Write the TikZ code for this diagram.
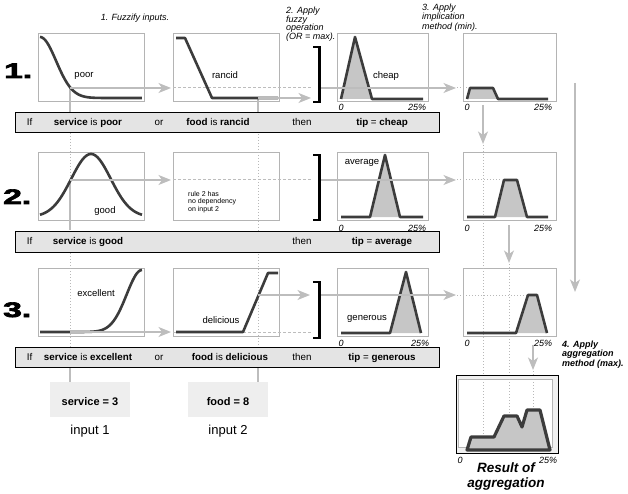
\documentclass[tikz,border=0pt]{standalone}
\usepackage{fontspec}
\setmainfont{Liberation Sans}
\newfontfamily\heavyfont[FakeBold=3]{Liberation Sans}
\usetikzlibrary{arrows.meta}
\definecolor{curvegray}{HTML}{3C3C3C}
\definecolor{fillgray}{HTML}{C6C6C6}
\definecolor{framegray}{HTML}{B4B4B4}
\definecolor{arrowgray}{HTML}{BDBDBD}
\definecolor{dotgray}{HTML}{B8B8B8}
\definecolor{bargray}{HTML}{E4E4E4}
\definecolor{boxgray}{HTML}{EEEEEE}
\begin{document}
\begin{tikzpicture}[x=1pt,y=-1pt,
  frm/.style={draw=framegray,line width=0.6pt,inner sep=0,anchor=north west},
  crv/.style={draw=curvegray,line width=2.6pt,line join=round},
  shade/.style={fill=fillgray},
  garr/.style={draw=arrowgray,line width=1.3pt,-{Stealth[length=12.5pt,width=10pt,inset=3.5pt]}},
  gseg/.style={draw=arrowgray,line width=1.1pt},
  dseg/.style={draw=arrowgray,line width=1pt,dash pattern=on 2.5pt off 2.5pt},
  vdots/.style={draw=dotgray,line width=1pt,dash pattern=on 1pt off 2pt},
  rulebar/.style={fill=bargray,draw=black,line width=0.8pt,inner sep=0,anchor=north west,minimum width=424pt,minimum height=20pt},
  brkt/.style={draw=black,line width=2.8pt,line join=miter},
  bartxt/.style={font=\fontsize{9.8}{11}\selectfont,inner sep=0,anchor=base},
  lbltxt/.style={font=\fontsize{9.5}{11}\selectfont,inner sep=0,anchor=base},
  axtxt/.style={font=\fontsize{9}{10}\selectfont\itshape,inner sep=0,anchor=base},
  numtxt/.style={font=\fontsize{21}{21}\heavyfont\bfseries,inner sep=0,anchor=base west},
  steptxt/.style={font=\fontsize{9}{9.2}\selectfont\itshape,inner sep=0,anchor=north west,align=left},
  valbox/.style={fill=boxgray,inner sep=0,anchor=north west,minimum width=80pt,minimum height=35pt}
]
\useasboundingbox (0,0) rectangle (628,494);

% ---------- frames ----------
\foreach \r/\y in {1/33,2/152,3/268}{
  \node[frm,minimum width=106pt,minimum height=68pt] (a\r) at (38,\y) {};
  \node[frm,minimum width=106pt,minimum height=68pt] (b\r) at (173,\y) {};
  \node[frm,minimum width=91pt,minimum height=68pt] (c\r) at (337,\y) {};
  \node[frm,minimum width=93pt,minimum height=68pt] (d\r) at (463,\y) {};
}

% ---------- input value lines ----------
\coordinate (sv1) at (70,88);
\coordinate (sv2) at (70,180);
\coordinate (sv3) at (70,332);
\coordinate (fd1) at (258,98);
\coordinate (fd3) at (258,295);
\coordinate (svb) at (70,382);
\coordinate (fdb) at (258,382);
\draw[vdots] (sv1) -- (svb);
\draw[vdots] (fd1) -- (fdb);
\draw[gseg] (sv1) -- (70,112);
\draw[gseg] (sv2) -- (70,230);
\draw[gseg] (70,367) -- (svb);
\draw[gseg] (fd1) -- (258,112);
\draw[gseg] (258,367) -- (fdb);

% ---------- right-hand dotted lines ----------
\draw[vdots] (483,145) -- (483,437);
\draw[vdots] (509,264) -- (509,416);
\draw[vdots] (533,371) -- (533,410);
\draw[vdots] (457,88) -- (469,88);
\draw[vdots] (457,180) -- (500,180);
\draw[vdots] (457,295) -- (528,295);

% ---------- dashed continuation lines ----------
\draw[dseg] (173,88) -- (312,88);
\draw[dseg] (173,180) -- (312,180);
\draw[dseg] (173,332) -- (312,332);

% ---------- membership curves (inputs) ----------
\draw[crv] plot[domain=0:10,samples=80,smooth] ({40+10.2*\x},{98-61*exp(-\x*\x/5)});
\draw[crv] (176,38) -- (185,38) -- (212,98) -- (278,98);
\draw[crv] plot[domain=0:10,samples=80,smooth] ({40+10.2*\x},{217-63*exp(-(\x-5)*(\x-5)/7.5)});
\draw[crv] plot[domain=0:10,samples=80,smooth] ({40+10.2*\x},{332-62*exp(-(\x-10)*(\x-10)/4.5)});
\draw[crv] (176,332) -- (243,332) -- (268,273) -- (278,273);

% ---------- output curves ----------
\fill[shade] (341,99) -- (355,37) -- (372,99) -- cycle;
\draw[crv] (341,99) -- (355,37) -- (372,99) -- (423,99);
\fill[shade] (370,217) -- (385,155) -- (400,217) -- cycle;
\draw[crv] (341,217) -- (370,217) -- (385,155) -- (400,217) -- (423,217);
\fill[shade] (390,333) -- (406,272) -- (421,333) -- cycle;
\draw[crv] (341,333) -- (390,333) -- (406,272) -- (421,333);

% ---------- implication curves ----------
\fill[shade] (467,99) -- (470,88) -- (493,88) -- (498,99) -- cycle;
\draw[crv] (467,99) -- (470,88) -- (493,88) -- (498,99) -- (548,99);
\fill[shade] (495,217) -- (504,180) -- (517,180) -- (527,217) -- cycle;
\draw[crv] (467,217) -- (495,217) -- (504,180) -- (517,180) -- (527,217) -- (548,217);
\fill[shade] (516,333) -- (528,295) -- (537,295) -- (547,333) -- cycle;
\draw[crv] (467,333) -- (516,333) -- (528,295) -- (537,295) -- (547,333);

% ---------- arrows ----------
\coordinate (a1e) at (171,88);
\coordinate (a2e) at (171,180);
\coordinate (a3e) at (171,332);
\draw[garr] (sv1) -- (a1e);
\draw[garr] (sv2) -- (a2e);
\draw[garr] (sv3) -- (a3e);
\coordinate (f1e) at (311,98);
\coordinate (f3e) at (310,295);
\draw[garr] (fd1) -- (f1e);
\draw[garr] (fd3) -- (f3e);
\coordinate (o1s) at (320,88);  \coordinate (o1e) at (456,88);
\coordinate (o2s) at (320,180); \coordinate (o2e) at (456,180);
\coordinate (o3s) at (320,295); \coordinate (o3e) at (456,295);
\draw[garr] (o1s) -- (o1e);
\draw[garr] (o2s) -- (o2e);
\draw[garr] (o3s) -- (o3e);
\coordinate (v1s) at (483,105); \coordinate (v1e) at (483,144);
\coordinate (v2s) at (509,225); \coordinate (v2e) at (509,263);
\coordinate (v3s) at (533,345); \coordinate (v3e) at (533,370);
\coordinate (lgs) at (575,83);  \coordinate (lge) at (575,292);
\draw[garr] (v1s) -- (v1e);
\draw[garr] (v2s) -- (v2e);
\draw[garr] (v3s) -- (v3e);
\draw[garr] (lgs) -- (lge);

% ---------- brackets ----------
\draw[brkt] (313,47) -- (319.5,47) -- (319.5,102) -- (313,102);
\draw[brkt] (313,155) -- (319.5,155) -- (319.5,220) -- (313,220);
\draw[brkt] (313,282) -- (319.5,282) -- (319.5,338) -- (313,338);

% ---------- rule bars ----------
\node[rulebar] (bar1) at (15,112) {};
\node[rulebar,minimum height=21pt] (bar2) at (15,230.5) {};
\node[rulebar] (bar3) at (15,347) {};

\node[bartxt] (if1) at (29.5,125.6) {If};
\node[bartxt] (p1) at (88,125.6) {\textbf{service} is \textbf{poor}};
\node[bartxt] (or1) at (159,125.6) {or};
\node[bartxt] (q1) at (218,125.6) {\textbf{food} is \textbf{rancid}};
\node[bartxt] (th1) at (302,125.6) {then};
\node[bartxt] (t1) at (382,125.6) {\textbf{tip} = \textbf{cheap}};

\node[bartxt] (if2) at (29.5,244.6) {If};
\node[bartxt] (p2) at (88,244.6) {\textbf{service} is \textbf{good}};
\node[bartxt] (th2) at (302,244.6) {then};
\node[bartxt] (t2) at (382,244.6) {\textbf{tip} = \textbf{average}};

\node[bartxt] (if3) at (29.5,360.6) {If};
\node[bartxt] (p3) at (88,360.6) {\textbf{service} is \textbf{excellent}};
\node[bartxt] (or3) at (159,360.6) {or};
\node[bartxt] (q3) at (230,360.6) {\textbf{food} is \textbf{delicious}};
\node[bartxt] (th3) at (302,360.6) {then};
\node[bartxt] (t3) at (382,360.6) {\textbf{tip} = \textbf{generous}};

% ---------- big rule numbers ----------
\node[numtxt] (n1) at (4,78) {\scalebox{1.6}[1]{1.}};
\node[numtxt] (n2) at (3,204) {\scalebox{1.6}[1]{2.}};
\node[numtxt] (n3) at (3,317) {\scalebox{1.6}[1]{3.}};

% ---------- labels in plots ----------
\node[lbltxt] (lpoor) at (84,78) {poor};
\node[lbltxt] (lrancid) at (225,79) {rancid};
\node[lbltxt] (lcheap) at (386,79) {cheap};
\node[lbltxt] (lgood) at (105,214) {good};
\node[lbltxt] (laverage) at (362,165) {average};
\node[lbltxt] (lexcellent) at (96,296) {excellent};
\node[lbltxt] (ldelicious) at (221,323) {delicious};
\node[lbltxt] (lgenerous) at (367,320) {generous};

\node[font=\fontsize{7}{7.5}\selectfont,inner sep=0,anchor=north west,align=left] (note) at (188,191) {rule 2 has\\no dependency\\on input 2};

% ---------- axis labels ----------
\foreach \r/\y/\m in {1/110.3/417,2/231.3/417,3/346.3/420}{
  \node[axtxt] (z\r) at (341,\y) {0};
  \node[axtxt] (zi\r) at (467,\y) {0};
  \node[axtxt] (m\r) at (\m,\y) {25\%};
  \node[axtxt] (mi\r) at (543,\y) {25\%};
}
\node[axtxt] (za) at (460,463.3) {0};
\node[axtxt] (ma) at (548,463.3) {25\%};

% ---------- aggregate ----------
\node[draw=black,line width=1.2pt,fill=gray!12,inner sep=0,anchor=north west,minimum width=102pt,minimum height=78pt] (agg) at (456,375) {};
\node[draw=framegray,line width=0.5pt,fill=white,inner sep=0,anchor=north west,minimum width=94pt,minimum height=68pt] (agginner) at (458,379) {};
\draw[vdots] (483,379) -- (483,437);
\draw[vdots] (509,379) -- (509,416);
\draw[vdots] (533,379) -- (533,410);
\draw[crv,fill=fillgray,line width=3.2pt] (467,450) -- (471,437) -- (494,437) -- (504,416) -- (517,416) -- (522,427) -- (527,410) -- (540,410) -- (550,450) -- cycle;

% ---------- step captions ----------
\node[font=\fontsize{9}{10}\selectfont\itshape,inner sep=0,anchor=base] (s1) at (135,20.5) {1. Fuzzify inputs.};
\node[steptxt,font=\fontsize{9}{8.8}\selectfont\itshape] (s2) at (286,6.6) {2. Apply\\fuzzy\\operation\\(OR = max).};
\node[steptxt,font=\fontsize{9}{9.4}\selectfont\itshape] (s3) at (422,3.7) {3. Apply\\implication\\method (min).};
\node[steptxt,font=\fontsize{9}{9.5}\selectfont\bfseries\itshape] (s4) at (562,340.7) {4. Apply\\aggregation\\method (max).};
\node[font=\fontsize{13.5}{15}\selectfont\bfseries\itshape,inner sep=0,anchor=north,align=center] (res) at (506,463) {Result of\\aggregation};

% ---------- input values ----------
\node[valbox] (svc) at (50,382) {};
\node[font=\fontsize{11}{12}\selectfont\bfseries,inner sep=0,anchor=base] at (90,405) {service = 3};
\node[valbox] (fdv) at (188,382) {};
\node[font=\fontsize{11}{12}\selectfont\bfseries,inner sep=0,anchor=base] at (228,405) {food = 8};
\node[font=\fontsize{13}{14}\selectfont,inner sep=0,anchor=base] (in1) at (90,434) {input 1};
\node[font=\fontsize{13}{14}\selectfont,inner sep=0,anchor=base] (in2) at (228,434) {input 2};
\end{tikzpicture}
\end{document}
